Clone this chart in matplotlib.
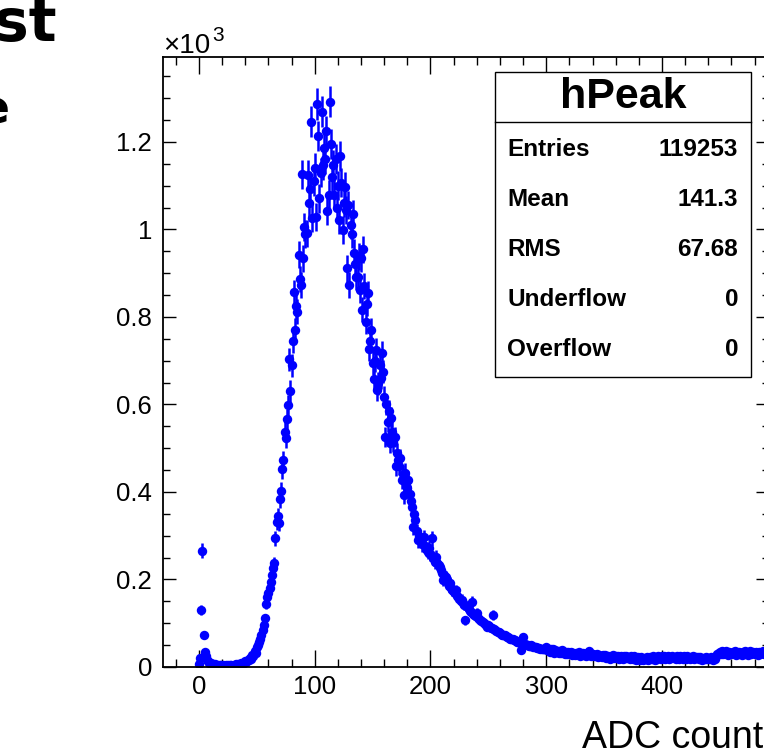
import numpy as np
import matplotlib
matplotlib.use("Agg")
import matplotlib.pyplot as plt
from matplotlib.patches import Rectangle
from matplotlib.ticker import MultipleLocator, FuncFormatter

plt.rcParams['font.family'] = ['Liberation Sans', 'DejaVu Sans']

# hPeak contents, one bin per ADC count starting at ADC 0
first_bin = 0
counts = [
    6, 21, 130, 266, 72, 35, 24, 17, 13, 10,
    8, 7, 6, 5, 6, 4, 5, 3, 4, 5,
    3, 4, 2, 5, 3, 4, 3, 5, 4, 3,
    5, 4, 6, 5, 7, 6, 8, 7, 10, 9,
    13, 12, 16, 15, 21, 19, 27, 24, 37, 33,
    45, 51, 56, 64, 73, 84, 97, 111, 144, 161,
    168, 180, 195, 210, 226, 237, 294, 332, 344, 330,
    383, 403, 452, 473, 538, 523, 566, 598, 703, 631,
    690, 745, 856, 770, 824, 812, 942, 886, 872, 1126,
    934, 1006, 990, 991, 1125, 1060, 1092, 1246, 1025, 1110,
    1140, 1029, 1287, 1214, 1071, 1130, 1269, 1147, 1185, 1160,
    1224, 1042, 1079, 1292, 1195, 1120, 1147, 1079, 1160, 1048,
    1100, 1022, 1168, 1107, 999, 1060, 1098, 1045, 911, 1056,
    873, 1010, 990, 1035, 947, 920, 892, 892, 938, 862,
    934, 816, 955, 870, 789, 830, 854, 726, 744, 770,
    694, 658, 700, 725, 633, 648, 690, 660, 718, 675,
    618, 526, 600, 560, 586, 511, 570, 538, 515, 526,
    459, 490, 473, 460, 477, 427, 440, 393, 444, 420,
    410, 427, 395, 380, 366, 320, 350, 335, 310, 290,
    300, 292, 288, 280, 296, 276, 270, 267, 262, 272,
    258, 294, 250, 246, 240, 252, 237, 232, 228, 222,
    215, 199, 210, 205, 198, 192, 185, 191, 180, 176,
    172, 168, 175, 163, 161, 156, 150, 154, 146, 142,
    107, 140, 136, 132, 128, 125, 149, 121, 118, 116,
    123, 112, 110, 108, 106, 103, 101, 99, 97, 92,
    95, 93, 90, 88, 119, 86, 84, 82, 80, 79,
    77, 76, 74, 73, 72, 70, 69, 68, 66, 65,
    64, 63, 61, 62, 59, 58, 57, 56, 39, 54,
    69, 53, 52, 51, 50, 49, 48, 50, 47, 46,
    45, 46, 44, 43, 44, 42, 41, 42, 40, 41,
    46, 38, 42, 35, 41, 36, 40, 33, 38, 35,
    37, 32, 36, 31, 38, 33, 30, 35, 29, 34,
    31, 35, 28, 33, 30, 27, 32, 29, 34, 26,
    30, 27, 33, 28, 25, 31, 27, 36, 33, 26,
    29, 24, 28, 25, 30, 23, 27, 25, 22, 28,
    24, 27, 21, 26, 23, 19, 25, 22, 27, 20,
    24, 21, 26, 19, 23, 25, 18, 24, 21, 26,
    20, 23, 19, 25, 22, 18, 24, 21, 17, 23,
    20, 16, 22, 19, 15, 21, 18, 23, 17, 20,
    22, 18, 24, 20, 17, 23, 19, 25, 21, 18,
    24, 20, 26, 19, 22, 25, 18, 23, 21, 26,
    20, 23, 19, 24, 21, 18, 25, 22, 19, 24,
    22, 19, 25, 21, 18, 23, 20, 24, 19, 22,
    20, 23, 18, 22, 19, 17, 21, 18, 22, 19,
    21, 18, 23, 20, 17, 22, 19, 24, 29, 33,
    35, 30, 36, 29, 33, 37, 31, 28, 34, 32,
    29, 34, 31, 36, 28, 33, 30, 35, 32, 27,
    34, 30, 36, 31, 28, 33, 37, 30, 32, 35,
    29, 34, 31, 27, 35, 30, 33, 36, 29, 32,
    34, 30, 33, 31,
]

stat_names = ["Entries", "Mean", "RMS", "Underflow", "Overflow"]
stat_values = ["119253", "141.3", "67.68", "0", "0"]
hist_name = "hPeak"
x_title = "ADC counts"

W, H = 764, 755
fig = plt.figure(figsize=(W / 100, H / 100), dpi=100)


def fx(px):
    return px / W


def fy(py):
    return 1 - py / H


ax = fig.add_axes([fx(163), fy(667), fx(769) - fx(163), fy(57) - fy(667)])

adc = first_bin + np.arange(len(counts))
n = np.array(counts, dtype=float)
ax.errorbar(adc, n / 1000, yerr=np.sqrt(n) / 1000, fmt='o', color='#0000ff',
            ms=6.8, elinewidth=1.8, capsize=0, mew=0)

ax.set_xlim(-31.1, 492.5)
ax.set_ylim(0, 1.394)

ax.xaxis.set_major_locator(MultipleLocator(100))
ax.xaxis.set_minor_locator(MultipleLocator(20))
ax.yaxis.set_major_locator(MultipleLocator(0.2))
ax.yaxis.set_minor_locator(MultipleLocator(0.05))
ax.yaxis.set_major_formatter(FuncFormatter(lambda v, p: '%g' % round(v, 2)))

ax.tick_params(axis='both', which='both', direction='in', top=True, right=True,
               colors='black', width=1.0, labelsize=18.5)
ax.tick_params(axis='x', which='major', length=12.2, pad=6)
ax.tick_params(axis='x', which='minor', length=5.8)
ax.tick_params(axis='y', which='major', length=9.4, pad=8)
ax.tick_params(axis='y', which='minor', length=5.0)
for s in ax.spines.values():
    s.set_linewidth(1.3)

# exponent label above the y axis
fig.text(fx(163), fy(53), "\u00d710", fontsize=20, ha='left', va='baseline')
fig.text(fx(212), fy(41), "3", fontsize=15, ha='left', va='baseline')

# axis title, right aligned to the axis end
fig.text(fx(782), fy(748), x_title, fontsize=27, ha='right', va='baseline')

# stats box
box_l, box_r, box_t, box_b = 495, 751, 72, 377
fig.patches.append(Rectangle((fx(box_l), fy(box_b)), fx(box_r) - fx(box_l),
                             fy(box_t) - fy(box_b), transform=fig.transFigure,
                             facecolor='white', edgecolor='black', lw=1.0, zorder=5))
fig.lines.append(plt.Line2D([fx(box_l), fx(box_r)], [fy(122), fy(122)],
                            transform=fig.transFigure, color='black', lw=1.0, zorder=6))
fig.text(fx((box_l + box_r) / 2), fy(97), hist_name, fontsize=31, fontweight='bold',
         ha='center', va='center', zorder=7)
for i, (nm, val) in enumerate(zip(stat_names, stat_values)):
    yy = fy(150 + 50 * i)
    fig.text(fx(507), yy, nm, fontsize=17.5, fontweight='bold', ha='left', va='center', zorder=7)
    fig.text(fx(738), yy, val, fontsize=17.5, fontweight='bold', ha='right', va='center', zorder=7)

# pieces of the slide behind the canvas
fig.text(fx(57), fy(41), "st", fontsize=42, fontweight='bold', ha='right', va='baseline',
         family='DejaVu Sans')
fig.text(fx(10), fy(123), "e", fontsize=34, fontweight='bold', ha='right', va='baseline',
         family='DejaVu Sans')

fig.savefig("out.png", dpi=100)
